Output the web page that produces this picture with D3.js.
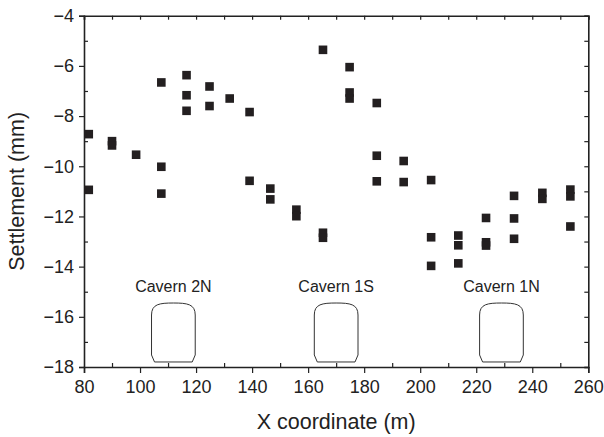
<!DOCTYPE html>
<html>
<head>
<meta charset="utf-8">
<script src="https://cdn.jsdelivr.net/npm/d3@7"></script>
<style>
  body { margin: 0; background: #fff; }
  text { font-family: "Liberation Sans", Arial, sans-serif; fill: #222; }
</style>
</head>
<body>
<div id="chart"></div>
<script>
// measured points, x coordinate (m) and settlement (mm)
const xCoord = [
  81.7, 81.7,
  90, 90,
  98.6,
  107.6, 107.6, 107.6,
  116.6, 116.6, 116.6,
  124.8, 124.8,
  132,
  139.1, 139.1,
  146.5, 146.5,
  155.8, 155.8,
  165.3, 165.3, 165.3,
  174.8, 174.8, 174.8,
  184.5, 184.5, 184.5,
  194.1, 194.1,
  203.9, 203.9, 203.9,
  213.6, 213.6, 213.6,
  223.5, 223.5, 223.5,
  233.5, 233.5, 233.5,
  243.6, 243.6,
  253.6, 253.6, 253.6
]
const settlement = [
  -8.72, -10.94,
  -9.0, -9.17,
  -9.54,
  -6.66, -10.02, -11.09,
  -6.37, -7.17, -7.79,
  -6.82, -7.6,
  -7.3,
  -7.84, -10.58,
  -10.89, -11.32,
  -11.73, -11.99,
  -5.36, -12.65, -12.85,
  -6.05, -7.06, -7.3,
  -7.48, -9.58, -10.6,
  -9.79, -10.63,
  -10.55, -12.83, -13.97,
  -12.76, -13.15, -13.87,
  -12.06, -13.03, -13.16,
  -11.18, -12.08, -12.89,
  -11.06, -11.3,
  -10.93, -11.2, -12.4
]

// caverns drawn along the bottom
const cavernNames = ['Cavern 2N', 'Cavern 1S', 'Cavern 1N']
const cavernCenter = [111.9, 170, 229]
const cavernSpan = 15.6      // m
const cavernTop = -15.45     // mm axis units, just for drawing
const cavernBottom = -17.8
const cavernLabelY = -15.0

const xTicks = [80, 100, 120, 140, 160, 180, 200, 220, 240, 260]
const yTicks = [-4, -6, -8, -10, -12, -14, -16, -18]

const width = 604
const height = 437
const margin = {left: 84, right: 15.7, top: 15.7, bottom: 70}

const svg = d3.select('#chart').append('svg')
  .attr('width', width).attr('height', height)

const xScale = d3.scaleLinear().domain([80, 260])
  .range([margin.left, width - margin.right])
const yScale = d3.scaleLinear().domain([-18, -4])
  .range([height - margin.bottom, margin.top])

const axisColor = '#222'

// bottom axis: major ticks out, minor in
svg.append('g')
  .attr('transform', 'translate(0,' + yScale(-18) + ')')
  .call(d3.axisBottom(xScale).tickValues(xTicks).tickSize(6).tickPadding(7))
  .call(g => g.selectAll('text').attr('font-size', 18))
svg.append('g')
  .attr('transform', 'translate(0,' + yScale(-18) + ')')
  .call(d3.axisTop(xScale).tickValues(d3.range(90, 260, 20)).tickSize(4).tickFormat(''))
  .call(g => g.select('.domain').remove())

// left axis
svg.append('g')
  .attr('transform', 'translate(' + xScale(80) + ',0)')
  .call(d3.axisLeft(yScale).tickValues(yTicks).tickSize(5).tickPadding(5))
  .call(g => g.selectAll('text').attr('font-size', 18))
svg.append('g')
  .attr('transform', 'translate(' + xScale(80) + ',0)')
  .call(d3.axisRight(yScale).tickValues(d3.range(-17, -4, 2)).tickSize(4).tickFormat(''))
  .call(g => g.select('.domain').remove())

// top and right box with inner ticks
svg.append('g')
  .attr('transform', 'translate(0,' + yScale(-4) + ')')
  .call(d3.axisBottom(xScale).ticks(18).tickSize(4).tickFormat(''))
svg.append('g')
  .attr('transform', 'translate(' + xScale(260) + ',0)')
  .call(d3.axisLeft(yScale).ticks(14).tickSize(4).tickFormat(''))

svg.selectAll('.domain').attr('stroke', axisColor).attr('stroke-width', 1.6)
svg.selectAll('.tick line').attr('stroke', axisColor).attr('stroke-width', 1.2)
svg.selectAll('.tick text').attr('fill', '#222')

// cavern outlines
function cavernPath(c) {
  const x0 = xScale(c - cavernSpan / 2)
  const x1 = xScale(c + cavernSpan / 2)
  const yt = yScale(cavernTop)
  const yb = yScale(cavernBottom)
  const ySh = yt + 12
  const ySide = yb - 7
  const mid = (x0 + x1) / 2
  return 'M' + (x0 + 3) + ',' + yb +
    'L' + x0 + ',' + ySide +
    'L' + x0 + ',' + ySh +
    'C' + x0 + ',' + (yt + 1) + ' ' + (x0 + 8) + ',' + yt + ' ' + mid + ',' + yt +
    'C' + (x1 - 8) + ',' + yt + ' ' + x1 + ',' + (yt + 1) + ' ' + x1 + ',' + ySh +
    'L' + x1 + ',' + ySide +
    'L' + (x1 - 3) + ',' + yb + 'Z'
}
svg.selectAll('path.cavern').data(cavernCenter)
  .enter().append('path')
  .attr('class', 'cavern')
  .attr('d', d => cavernPath(d))
  .attr('fill', 'none')
  .attr('stroke', '#333')
  .attr('stroke-width', 1)

svg.selectAll('text.cavern-label').data(cavernNames)
  .enter().append('text')
  .attr('class', 'cavern-label')
  .attr('x', (d, i) => xScale(cavernCenter[i]))
  .attr('y', yScale(cavernLabelY))
  .attr('text-anchor', 'middle')
  .attr('font-size', 16)
  .text(d => d)

// square markers
const size = 8.6
svg.selectAll('rect.pt').data(xCoord)
  .enter().append('rect')
  .attr('class', 'pt')
  .attr('x', d => xScale(d) - size / 2)
  .attr('y', (d, i) => yScale(settlement[i]) - size / 2)
  .attr('width', size)
  .attr('height', size)
  .attr('fill', '#231f20')

// axis titles
svg.append('text')
  .attr('x', xScale(170))
  .attr('y', 429)
  .attr('text-anchor', 'middle')
  .attr('font-size', 21.5)
  .text('X coordinate (m)')
svg.append('text')
  .attr('transform', 'translate(24,' + yScale(-11) + ') rotate(-90)')
  .attr('text-anchor', 'middle')
  .attr('font-size', 21.5)
  .text('Settlement (mm)')
</script>
</body>
</html>
